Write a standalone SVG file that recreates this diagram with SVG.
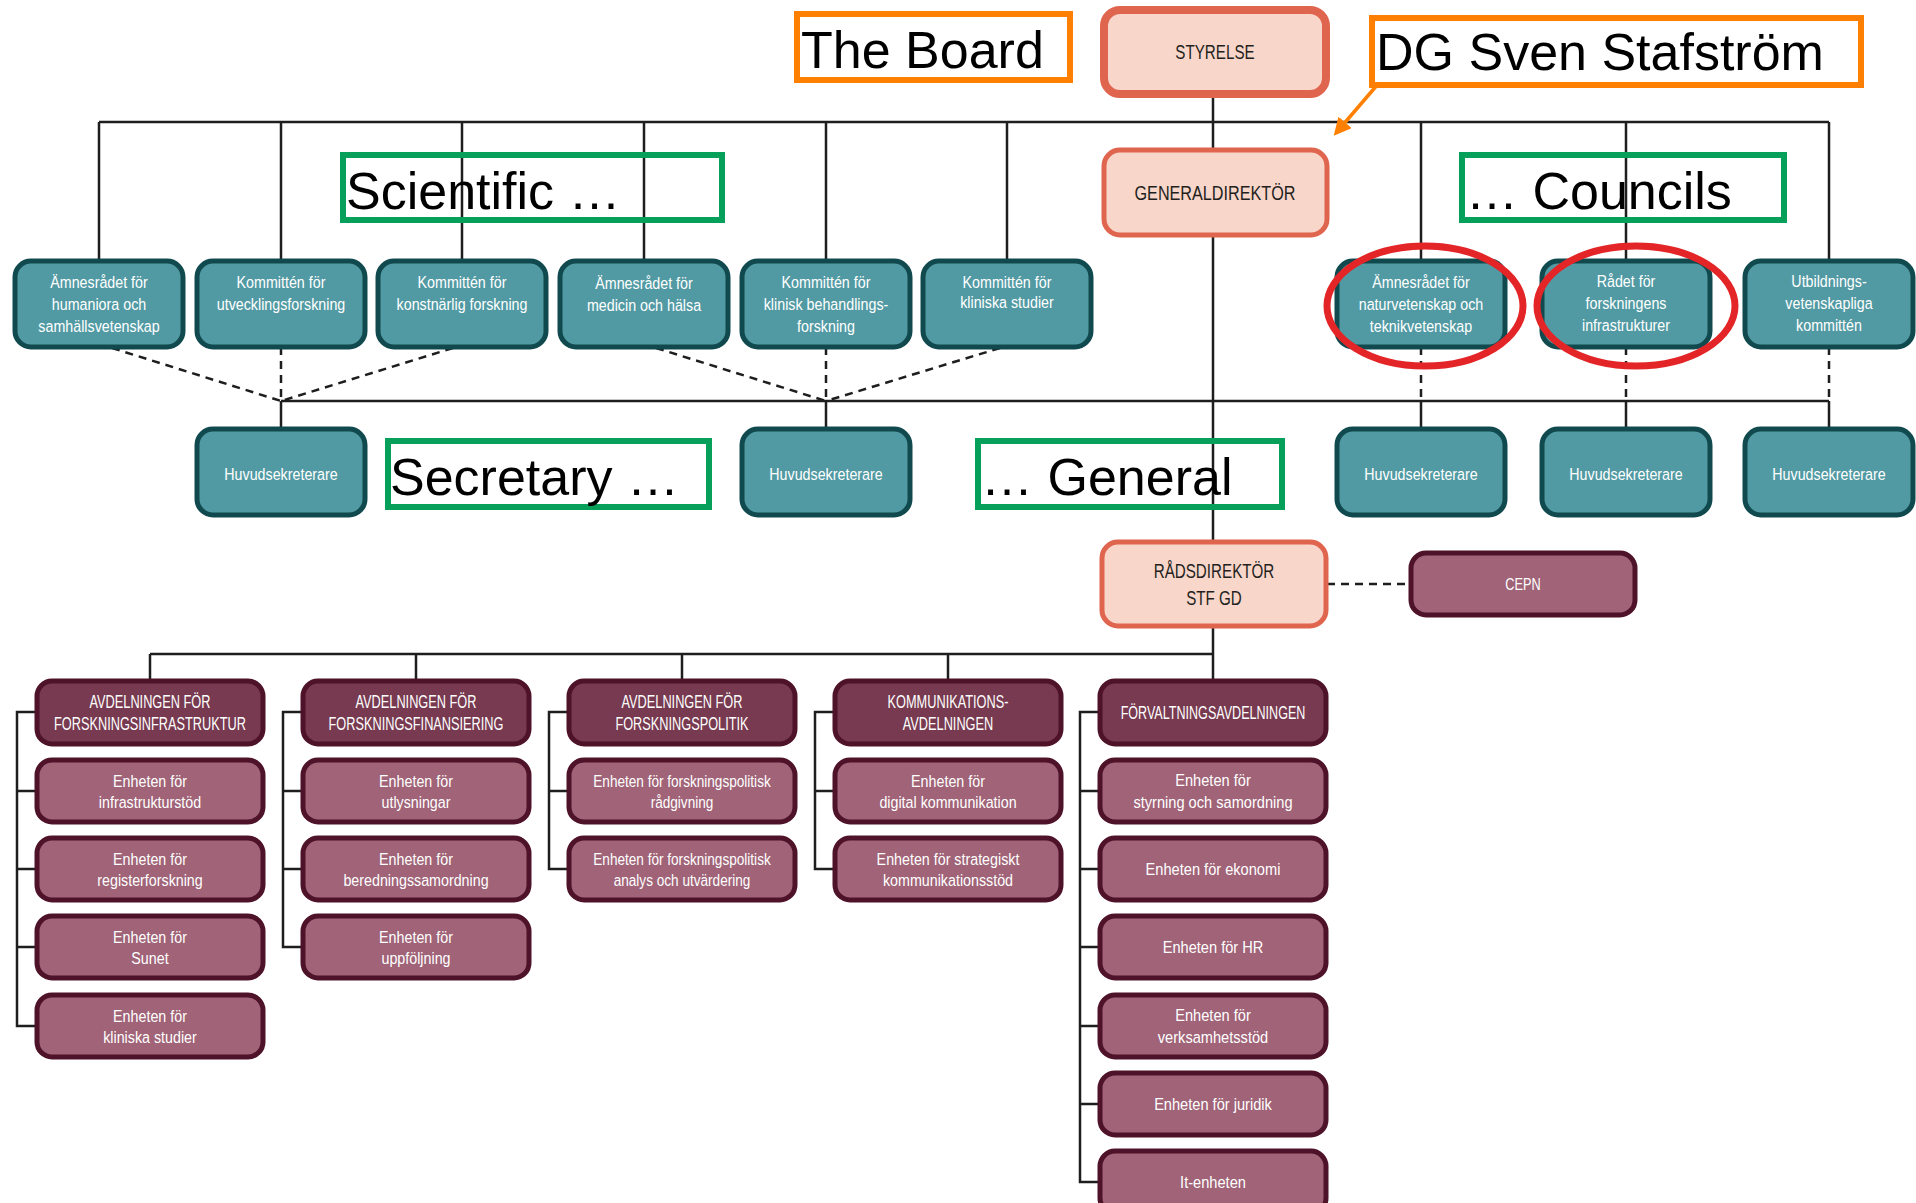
<svg xmlns="http://www.w3.org/2000/svg" width="1916" height="1203" viewBox="0 0 1916 1203">
<defs>
<style>
.teal{fill:#529AA3;stroke:#114A4E;stroke-width:5}
.salm{fill:#F9D6CA;stroke:#E0654F;stroke-width:5}
.hdr{fill:#773A50;stroke:#4E1229;stroke-width:5}
.sub{fill:#A06377;stroke:#4E1229;stroke-width:5}
text{font-family:"Liberation Sans",Arial,sans-serif;text-anchor:middle}
.tw text{fill:#fff;font-size:17px}
.th text{fill:#fff;font-size:18.5px}
.tc text{fill:#fff;font-size:17px}
.tf text{fill:#fff;font-size:17px}
.td text{fill:#231F20;font-size:20px}
.c{stroke:#1E1E1E;stroke-width:2.5;fill:none}
.d{stroke:#1E1E1E;stroke-width:2.5;fill:none;stroke-dasharray:8 6}
.or{fill:none;stroke:#FF8000;stroke-width:6}
.gr{fill:none;stroke:#07A05A;stroke-width:6}
text.ann{fill:#000;font-size:52px;text-anchor:start}
.red{fill:none;stroke:#E42527;stroke-width:7}
</style>
<marker id="oa" viewBox="0 0 10 10" refX="8" refY="5" markerWidth="5" markerHeight="5" orient="auto">
<path d="M0,0 L10,5 L0,10 z" fill="#FF8000"/>
</marker>
</defs>
<rect width="1916" height="1203" fill="#fff"/>

<g id="connectors">
<path class="c" d="M1213 97V149 M99 122H1829 M99 122V261 M281 122V261 M462 122V261 M644 122V261 M826 122V261 M1007 122V261 M1421 122V261 M1626 122V261 M1829 122V261"/>
<path class="c" d="M1213 235V541"/>
<path class="d" d="M112 348L281 401 M281 347V401 M453 348L281 401 M656 348L826 401 M826 347V401 M1000 348L826 401 M1421 347V401 M1626 347V401 M1829 347V401"/>
<path class="c" d="M281 401H1829 M281 401V429 M826 401V429 M1421 401V429 M1626 401V429 M1829 401V429"/>
<path class="d" d="M1327 584H1410"/>
<path class="c" d="M1213 627V681 M150 654H1213 M150 654V681 M416 654V681 M682 654V681 M948 654V681"/>
<path class="c" d="M37 712H17V1026H37 M17 791H37 M17 869H37 M17 947H37"/>
<path class="c" d="M303 712H283V947H303 M283 791H303 M283 869H303"/>
<path class="c" d="M569 712H549V869H569 M549 791H569"/>
<path class="c" d="M835 712H815V869H835 M815 791H835"/>
<path class="c" d="M1100 712H1080V1182H1100 M1080 791H1100 M1080 869H1100 M1080 947H1100 M1080 1026H1100 M1080 1104H1100"/>
</g>

<g id="styrelse"><rect class="salm" x="1104" y="10" width="222" height="84" rx="16" style="stroke-width:8"/><g class="td" transform="matrix(0.76 0 0 1 1215 0)"><text y="59">STYRELSE</text></g></g>
<g id="generaldirektor"><rect class="salm" x="1104" y="150" width="223" height="85" rx="16"/><g class="td" transform="matrix(0.81 0 0 1 1215 0)"><text y="200">GENERALDIREKTÖR</text></g></g>

<g id="r1"><rect class="teal" x="15" y="261" width="168" height="86" rx="16"/><g class="tw" transform="matrix(0.84 0 0 1 99 0)"><text y="288">Ämnesrådet för</text><text y="310">humaniora och</text><text y="332">samhällsvetenskap</text></g></g>
<g id="r2"><rect class="teal" x="197" y="261" width="168" height="86" rx="16"/><g class="tw" transform="matrix(0.84 0 0 1 281 0)"><text y="288">Kommittén för</text><text y="310">utvecklingsforskning</text></g></g>
<g id="r3"><rect class="teal" x="378" y="261" width="168" height="86" rx="16"/><g class="tw" transform="matrix(0.84 0 0 1 462 0)"><text y="288">Kommittén för</text><text y="310">konstnärlig forskning</text></g></g>
<g id="r4"><rect class="teal" x="560" y="261" width="168" height="86" rx="16"/><g class="tw" transform="matrix(0.84 0 0 1 644 0)"><text y="289">Ämnesrådet för</text><text y="311">medicin och hälsa</text></g></g>
<g id="r5"><rect class="teal" x="742" y="261" width="168" height="86" rx="16"/><g class="tw" transform="matrix(0.84 0 0 1 826 0)"><text y="288">Kommittén för</text><text y="310">klinisk behandlings-</text><text y="332">forskning</text></g></g>
<g id="r6"><rect class="teal" x="923" y="261" width="168" height="86" rx="16"/><g class="tw" transform="matrix(0.84 0 0 1 1007 0)"><text y="288">Kommittén för</text><text y="308">kliniska studier</text></g></g>
<g id="r7"><rect class="teal" x="1337" y="261" width="168" height="86" rx="16"/><g class="tw" transform="matrix(0.84 0 0 1 1421 0)"><text y="288">Ämnesrådet för</text><text y="310">naturvetenskap och</text><text y="332">teknikvetenskap</text></g></g>
<g id="r8"><rect class="teal" x="1542" y="261" width="168" height="86" rx="16"/><g class="tw" transform="matrix(0.84 0 0 1 1626 0)"><text y="287">Rådet för</text><text y="309">forskningens</text><text y="331">infrastrukturer</text></g></g>
<g id="r9"><rect class="teal" x="1745" y="261" width="168" height="86" rx="16"/><g class="tw" transform="matrix(0.84 0 0 1 1829 0)"><text y="287">Utbildnings-</text><text y="309">vetenskapliga</text><text y="331">kommittén</text></g></g>

<g id="s1"><rect class="teal" x="197" y="429" width="168" height="86" rx="16"/><g class="tw" transform="matrix(0.84 0 0 1 281 0)"><text y="480">Huvudsekreterare</text></g></g>
<g id="s2"><rect class="teal" x="742" y="429" width="168" height="86" rx="16"/><g class="tw" transform="matrix(0.84 0 0 1 826 0)"><text y="480">Huvudsekreterare</text></g></g>
<g id="s3"><rect class="teal" x="1337" y="429" width="168" height="86" rx="16"/><g class="tw" transform="matrix(0.84 0 0 1 1421 0)"><text y="480">Huvudsekreterare</text></g></g>
<g id="s4"><rect class="teal" x="1542" y="429" width="168" height="86" rx="16"/><g class="tw" transform="matrix(0.84 0 0 1 1626 0)"><text y="480">Huvudsekreterare</text></g></g>
<g id="s5"><rect class="teal" x="1745" y="429" width="168" height="86" rx="16"/><g class="tw" transform="matrix(0.84 0 0 1 1829 0)"><text y="480">Huvudsekreterare</text></g></g>

<g id="radsdirektor"><rect class="salm" x="1102" y="542" width="224" height="84" rx="16"/><g class="td" transform="matrix(0.76 0 0 1 1214 0)"><text y="578">RÅDSDIREKTÖR</text><text y="605">STF GD</text></g></g>
<g id="cepn"><rect class="sub" x="1411" y="553" width="224" height="62" rx="15"/><g class="tc" transform="matrix(0.75 0 0 1 1523 0)"><text y="590">CEPN</text></g></g>

<g id="d1"><rect class="hdr" x="37" y="681" width="226" height="63" rx="15"/><g class="th" transform="matrix(0.69 0 0 1 150 0)"><text y="708">AVDELNINGEN FÖR</text><text y="730">FORSKNINGSINFRASTRUKTUR</text></g></g>
<g id="d1a"><rect class="sub" x="37" y="760" width="226" height="62" rx="15"/><g class="tw" transform="matrix(0.84 0 0 1 150 0)"><text y="787">Enheten för</text><text y="808">infrastrukturstöd</text></g></g>
<g id="d1b"><rect class="sub" x="37" y="838" width="226" height="62" rx="15"/><g class="tw" transform="matrix(0.84 0 0 1 150 0)"><text y="865">Enheten för</text><text y="886">registerforskning</text></g></g>
<g id="d1c"><rect class="sub" x="37" y="916" width="226" height="62" rx="15"/><g class="tw" transform="matrix(0.84 0 0 1 150 0)"><text y="943">Enheten för</text><text y="964">Sunet</text></g></g>
<g id="d1d"><rect class="sub" x="37" y="995" width="226" height="62" rx="15"/><g class="tw" transform="matrix(0.84 0 0 1 150 0)"><text y="1022">Enheten för</text><text y="1043">kliniska studier</text></g></g>

<g id="d2"><rect class="hdr" x="303" y="681" width="226" height="63" rx="15"/><g class="th" transform="matrix(0.69 0 0 1 416 0)"><text y="708">AVDELNINGEN FÖR</text><text y="730">FORSKNINGSFINANSIERING</text></g></g>
<g id="d2a"><rect class="sub" x="303" y="760" width="226" height="62" rx="15"/><g class="tw" transform="matrix(0.84 0 0 1 416 0)"><text y="787">Enheten för</text><text y="808">utlysningar</text></g></g>
<g id="d2b"><rect class="sub" x="303" y="838" width="226" height="62" rx="15"/><g class="tw" transform="matrix(0.84 0 0 1 416 0)"><text y="865">Enheten för</text><text y="886">beredningssamordning</text></g></g>
<g id="d2c"><rect class="sub" x="303" y="916" width="226" height="62" rx="15"/><g class="tw" transform="matrix(0.84 0 0 1 416 0)"><text y="943">Enheten för</text><text y="964">uppföljning</text></g></g>

<g id="d3"><rect class="hdr" x="569" y="681" width="226" height="63" rx="15"/><g class="th" transform="matrix(0.69 0 0 1 682 0)"><text y="708">AVDELNINGEN FÖR</text><text y="730">FORSKNINGSPOLITIK</text></g></g>
<g id="d3a"><rect class="sub" x="569" y="760" width="226" height="62" rx="15"/><g class="tw" transform="matrix(0.8 0 0 1 682 0)"><text y="787">Enheten för forskningspolitisk</text><text y="808">rådgivning</text></g></g>
<g id="d3b"><rect class="sub" x="569" y="838" width="226" height="62" rx="15"/><g class="tw" transform="matrix(0.8 0 0 1 682 0)"><text y="865">Enheten för forskningspolitisk</text><text y="886">analys och utvärdering</text></g></g>

<g id="d4"><rect class="hdr" x="835" y="681" width="226" height="63" rx="15"/><g class="th" transform="matrix(0.69 0 0 1 948 0)"><text y="708">KOMMUNIKATIONS-</text><text y="730">AVDELNINGEN</text></g></g>
<g id="d4a"><rect class="sub" x="835" y="760" width="226" height="62" rx="15"/><g class="tw" transform="matrix(0.84 0 0 1 948 0)"><text y="787">Enheten för</text><text y="808">digital kommunikation</text></g></g>
<g id="d4b"><rect class="sub" x="835" y="838" width="226" height="62" rx="15"/><g class="tw" transform="matrix(0.84 0 0 1 948 0)"><text y="865">Enheten för strategiskt</text><text y="886">kommunikationsstöd</text></g></g>

<g id="d5"><rect class="hdr" x="1100" y="681" width="226" height="63" rx="15"/><g class="th" transform="matrix(0.68 0 0 1 1213 0)"><text y="719">FÖRVALTNINGSAVDELNINGEN</text></g></g>
<g id="d5a"><rect class="sub" x="1100" y="760" width="226" height="62" rx="15"/><g class="tf" transform="matrix(0.86 0 0 1 1213 0)"><text y="786">Enheten för</text><text y="808">styrning och samordning</text></g></g>
<g id="d5b"><rect class="sub" x="1100" y="838" width="226" height="62" rx="15"/><g class="tf" transform="matrix(0.86 0 0 1 1213 0)"><text y="875">Enheten för ekonomi</text></g></g>
<g id="d5c"><rect class="sub" x="1100" y="916" width="226" height="62" rx="15"/><g class="tf" transform="matrix(0.86 0 0 1 1213 0)"><text y="953">Enheten för HR</text></g></g>
<g id="d5d"><rect class="sub" x="1100" y="995" width="226" height="62" rx="15"/><g class="tf" transform="matrix(0.86 0 0 1 1213 0)"><text y="1021">Enheten för</text><text y="1043">verksamhetsstöd</text></g></g>
<g id="d5e"><rect class="sub" x="1100" y="1073" width="226" height="62" rx="15"/><g class="tf" transform="matrix(0.86 0 0 1 1213 0)"><text y="1110">Enheten för juridik</text></g></g>
<g id="d5f"><rect class="sub" x="1100" y="1151" width="226" height="62" rx="15"/><g class="tf" transform="matrix(0.86 0 0 1 1213 0)"><text y="1188">It-enheten</text></g></g>

<g id="annotations">
<rect class="or" x="797" y="14" width="273" height="66"/><text class="ann" x="801" y="68">The Board</text>
<rect class="or" x="1372" y="18" width="489" height="67"/><text class="ann" x="1376" y="70">DG Sven Stafström</text>
<path d="M1378 84L1336 133" stroke="#FF8000" stroke-width="3.5" fill="none" marker-end="url(#oa)"/>
<rect class="gr" x="343" y="155" width="379" height="65"/><text class="ann" x="346" y="209">Scientific …</text>
<rect class="gr" x="1462" y="155" width="322" height="65"/><text class="ann" x="1466" y="209">… Councils</text>
<rect class="gr" x="388" y="441" width="321" height="66"/><text class="ann" x="390" y="495">Secretary …</text>
<rect class="gr" x="978" y="441" width="304" height="66"/><text class="ann" x="981" y="495">… General</text>
<ellipse class="red" cx="1425" cy="306" rx="98" ry="60"/>
<ellipse class="red" cx="1636" cy="306" rx="99" ry="60"/>
</g>
</svg>
